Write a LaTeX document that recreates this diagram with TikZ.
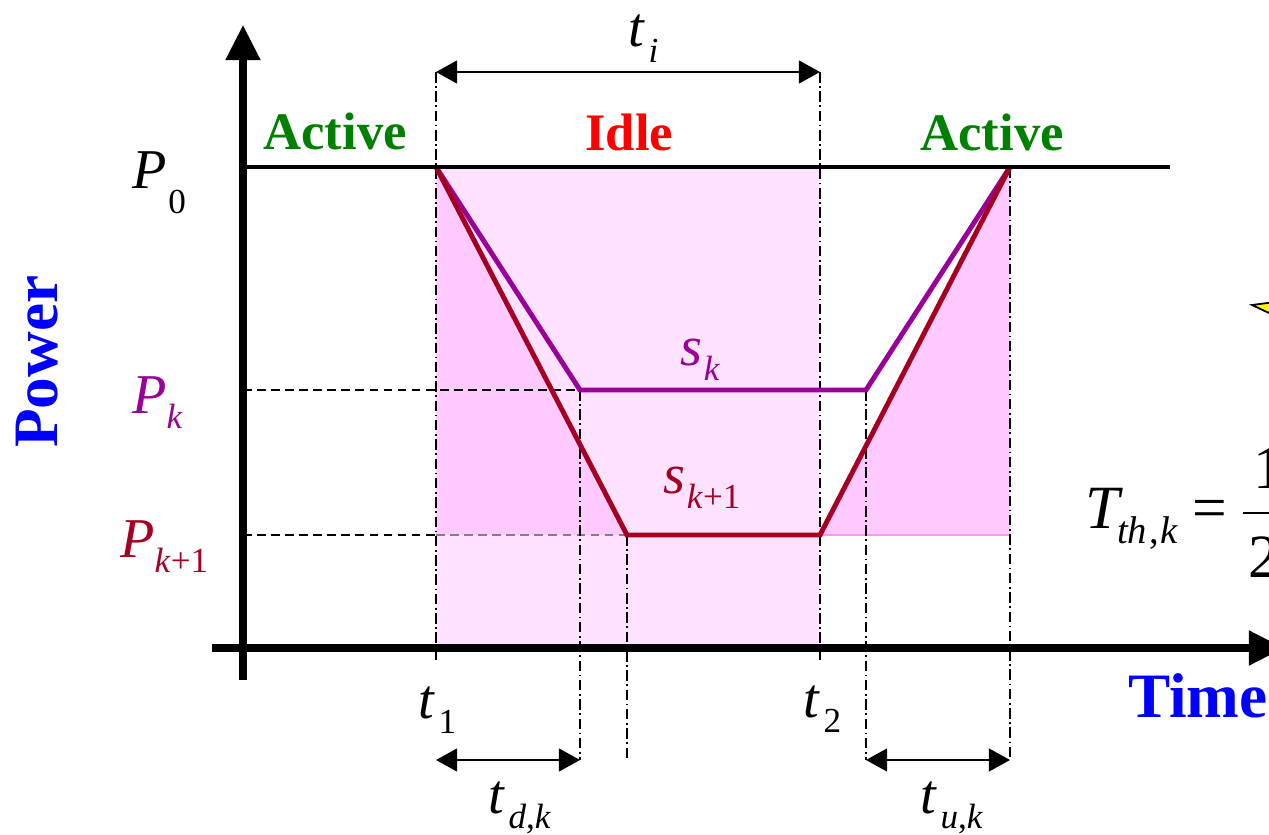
\documentclass[tikz,border=0pt]{standalone}
\usepackage{fontspec}
\setmainfont{Liberation Serif}
\usetikzlibrary{arrows.meta}
\definecolor{cgreen}{RGB}{0,128,0}
\definecolor{cred}{RGB}{255,0,0}
\definecolor{cblue}{RGB}{0,0,255}
\definecolor{cpurp}{RGB}{153,0,153}
\definecolor{cdred}{RGB}{165,0,33}
\definecolor{pinkL}{RGB}{255,226,255}
\definecolor{pinkD}{RGB}{255,202,255}
\definecolor{pinkLine}{RGB}{255,150,255}
\newcommand\ssb[2][-0.28em]{\raisebox{#1}{\fontsize{20}{23}\selectfont #2}}
\tikzset{
  axis/.style={line width=4pt,-{Triangle[length=20pt,width=19pt]}},
  topline/.style={line width=2.8pt},
  purpline/.style={line width=2.8pt,cpurp},
  redline/.style={line width=2.8pt,cdred},
  hdash/.style={line width=0.9pt,dash pattern=on 5pt off 3pt},
  hdashgray/.style={line width=0.6pt,gray,dash pattern=on 5pt off 3pt},
  vdash/.style={line width=1pt,dash pattern=on 6pt off 2pt on 1pt off 2pt},
  dimarrow/.style={line width=1.1pt,{Triangle[length=12pt,width=13pt]}-{Triangle[length=12pt,width=13pt]}},
  state/.style={font=\fontsize{30}{36}\selectfont\bfseries,anchor=base west,inner sep=0pt},
  sym/.style={font=\fontsize{32}{38}\selectfont,anchor=base west,inner sep=0pt},
  axlabel/.style={font=\fontsize{36}{42}\selectfont\bfseries,text=cblue,anchor=base west,inner sep=0pt},
  formula/.style={font=\fontsize{35}{40}\selectfont,anchor=base west,inner sep=0pt},
}
\begin{document}
\begin{tikzpicture}[x=0.02cm,y=-0.02cm]
\useasboundingbox (0,0) rectangle (1269,835);
\clip (0,0) rectangle (1269,835);
% key points
\coordinate (A) at (436,167);
\coordinate (B) at (580,390);
\coordinate (C) at (866,390);
\coordinate (D) at (1010,167);
\coordinate (E) at (627,535);
\coordinate (F) at (820,535);
\coordinate (A5) at (436,535);
\coordinate (D5) at (1010,535);
% shading
\fill[pinkL] (436,167) rectangle (820,648);
\fill[pinkD] (A) -- (E) -- (A5) -- cycle;
\fill[pinkD] (F) -- (D) -- (D5) -- cycle;
% level guides
\coordinate (Pk0) at (243,390);
\coordinate (Pk10) at (243,535);
\draw[hdash] (Pk0) -- (B);
\draw[hdash] (Pk10) -- (A5);
\draw[hdashgray] (A5) -- (E);
\draw[pinkLine,line width=0.8pt] (F) -- (D5);
% vertical guides
\coordinate (t1top) at (436,72);
\coordinate (t1bot) at (436,660);
\coordinate (t2top) at (820,72);
\coordinate (t2bot) at (820,660);
\coordinate (Bbot) at (580,760);
\coordinate (Ebot) at (627,760);
\coordinate (Cbot) at (866,760);
\coordinate (Dbot) at (1010,760);
\coordinate (t1d) at (436,760);
\draw[vdash] (t1top) -- (t1bot);
\draw[vdash] (t2top) -- (t2bot);
\draw[vdash] (B) -- (Bbot);
\draw[vdash] (E) -- (Ebot);
\draw[vdash] (C) -- (Cbot);
\draw[vdash] (D) -- (Dbot);
% dimension arrows
\draw[dimarrow] (t1top) -- (t2top);
\draw[dimarrow] (t1d) -- (Bbot);
\draw[dimarrow] (Cbot) -- (Dbot);
% power curves
\draw[purpline] (A) -- (B) -- (C) -- (D);
\draw[redline] (A) -- (E) -- (F) -- (D);
% P0 line
\coordinate (P0L) at (243,167);
\coordinate (P0R) at (1170,167);
\draw[topline] (P0L) -- (P0R);
% axes
\coordinate (yB) at (243,680);
\coordinate (yT) at (243,25);
\coordinate (xL) at (212,648);
\coordinate (xR) at (1284,648);
\draw[axis] (yB) -- (yT);
\draw[axis] (xL) -- (xR);
% state labels
\node[state,text=cgreen] (act1) at (263,149) {Active};
\node[state,text=cred] (idle) at (585,150) {Idle};
\node[state,text=cgreen] (act2) at (920,150) {Active};
% axis labels
\node[axlabel] (time) at (1128,717) {Time};
\node[axlabel,rotate=90] (power) at (57,448) {Power};
% symbol labels
\node[sym] (p0) at (132,188) {\textit{P}\ssb[-0.45em]{\kern0.05em 0}};
\node[sym,text=cpurp] (pk) at (132,413) {\textit{P}\ssb{\textit{k}}};
\node[sym,text=cdred] (pk1) at (120,557) {\textit{P}\ssb{\textit{k}+1}};
\node[sym] (ti) at (628,47) {\textit{t}\ssb{\kern0.1em\textit{i}}};
\node[sym] (t1) at (418,718) {\textit{t}\ssb{\kern0.1em 1}};
\node[sym] (t2) at (803,717) {\textit{t}\ssb{\kern0.1em 2}};
\node[sym] (tdk) at (488,813) {\textit{t}\ssb{\kern0.1em\textit{d},\textit{k}}};
\node[sym] (tuk) at (920,813) {\textit{t}\ssb{\kern0.1em\textit{u},\textit{k}}};
\node[sym,text=cpurp] (sk) at (680,365) {\textit{s}\ssb{\kern0.05em\textit{k}}};
\node[sym,text=cdred] (sk1) at (663,493) {\textit{s}\ssb{\kern0.05em\textit{k}+1}};
% threshold formula (cut at right edge, as in the reference)
\node[formula] (tth) at (1085,528)
  {\textit{T}\kern-0.1em\raisebox{-0.26em}{\fontsize{22}{26}\selectfont\textit{th}\kern0.05em,\kern0.05em\textit{k}}};
\node[formula] (eq) at (1192,528) {=};
\coordinate (barL) at (1243,513);
\coordinate (barR) at (1300,513);
\draw[line width=1.2pt] (barL) -- (barR);
\node[formula] (one) at (1253,488) {1};
\node[formula] (two) at (1248,577) {2};
% yellow callout tip
\coordinate (y1) at (1252,305);
\coordinate (y2) at (1290,300);
\coordinate (y3) at (1290,323);
\draw[fill=yellow,line width=1pt] (y1) -- (y2) -- (y3) -- cycle;
\end{tikzpicture}
\end{document}
